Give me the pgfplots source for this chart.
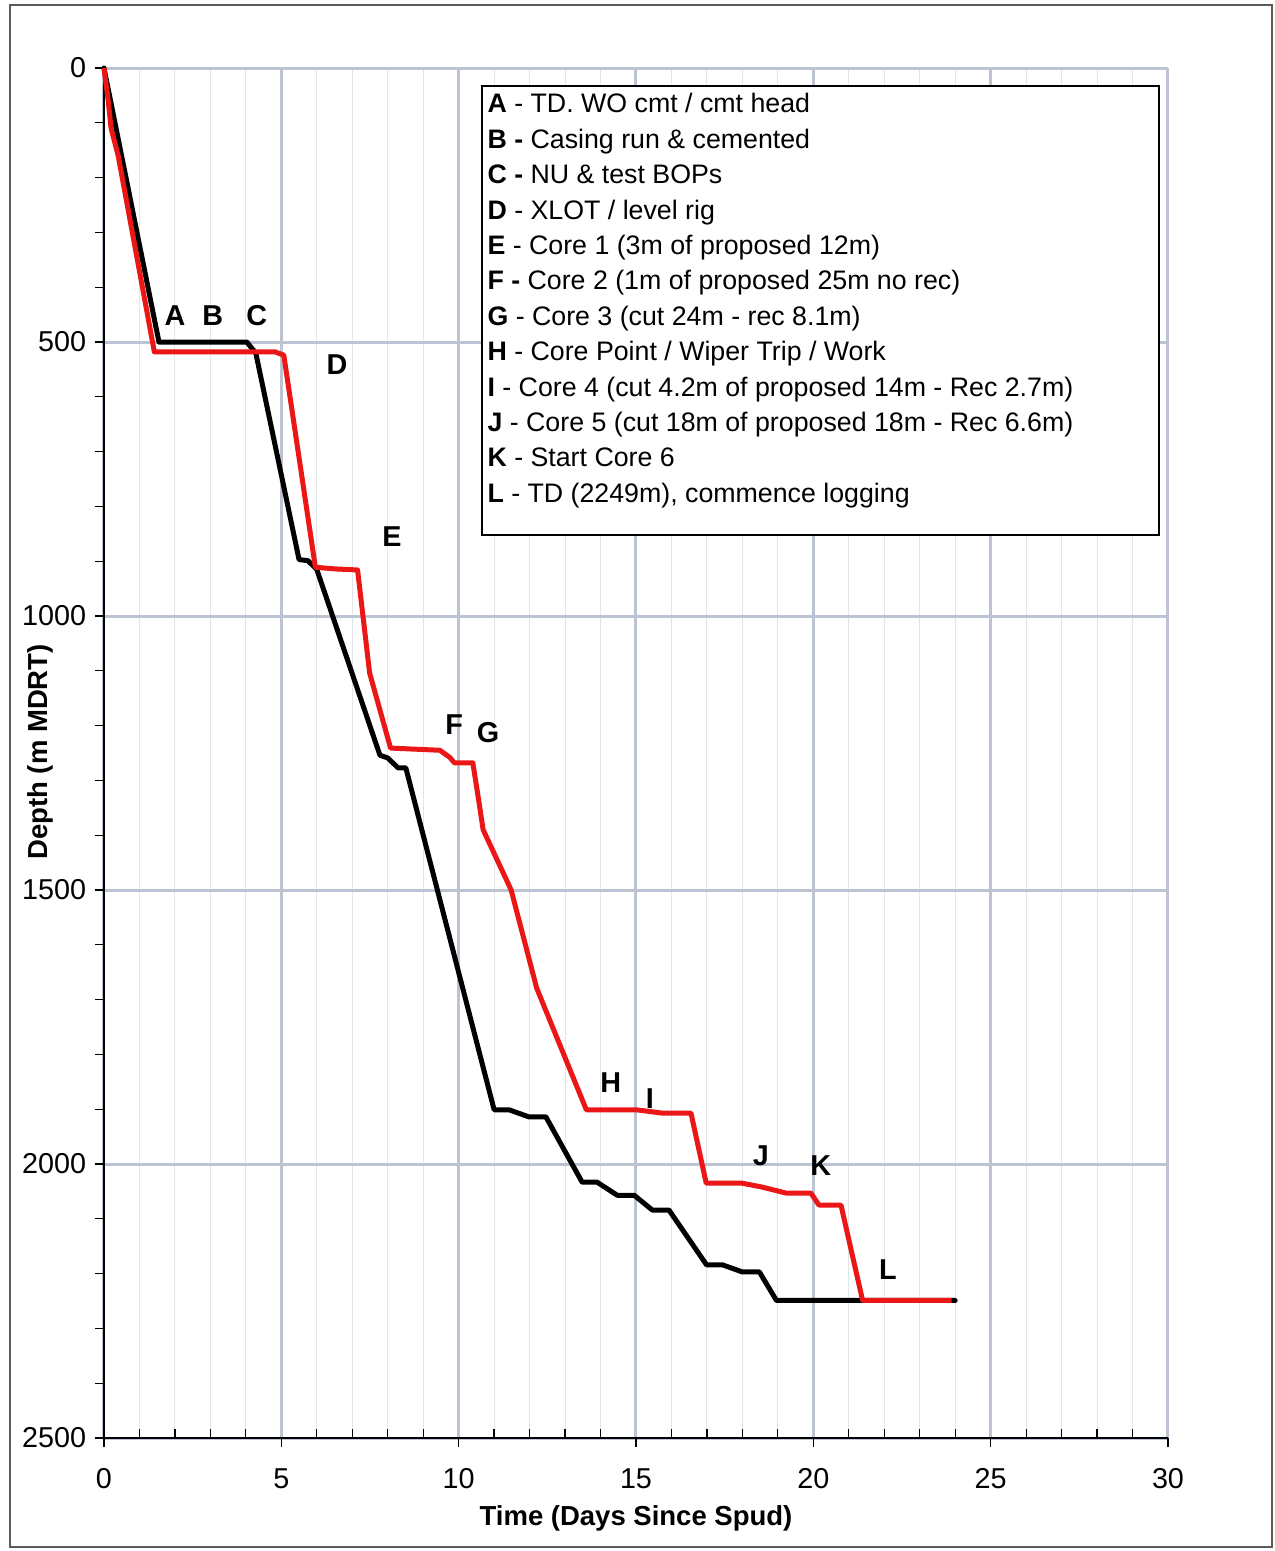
\documentclass[border=0pt]{standalone}
\usepackage{pgfplots}
\pgfplotsset{compat=1.18}
\usepackage{fontspec}
\setmainfont{Liberation Sans}
\definecolor{majgrid}{RGB}{188,196,212}
\definecolor{mingrid}{RGB}{226,229,235}
\definecolor{myred}{RGB}{235,22,22}
\definecolor{framec}{RGB}{90,90,90}
\begin{document}
\begin{tikzpicture}
\begin{axis}[
  scale only axis, width=425.6pt, height=548pt,
  xmin=0, xmax=30, ymin=0, ymax=2500, y dir=reverse,
  axis x line*=bottom, axis y line*=left,
  xtick={0,5,...,30}, ytick={0,500,...,2500},
  minor x tick num=4, minor y tick num=4,
  xmajorgrids, xminorgrids, ymajorgrids,
  major grid style={majgrid, line width=1.2pt},
  minor grid style={mingrid, line width=0.4pt},
  tick align=outside, major tick length=3.6pt, minor tick length=3.6pt,
  minor x tick style={yshift=3.6pt},
  tick style={black, line width=0.5pt},
  axis line style={black, line width=0.6pt},
  /pgf/number format/assume math mode=true,
  /pgf/number format/1000 sep={},
  ticklabel style={font=\fontsize{11.5}{13}\selectfont},
  xticklabel style={yshift=-5pt},
  clip=false,
]
% invisible bounding box and outer frame
\path (axis cs:-2.932,-124.1) rectangle (axis cs:32.99,2706.2);
\draw[framec, line width=0.8pt] (axis cs:-2.65,-115) rectangle (axis cs:32.93,2698.9);

\addplot[black, line width=2pt, line join=round, line cap=round] coordinates {
(0,0)(1.55,500)(4.03,500)(4.15,510)(4.28,520)(5.5,897)(5.75,899)(6.0,915)
(7.78,1254)(8.0,1259)(8.29,1277)(8.51,1277)(11.0,1901)(11.42,1901)(11.98,1914)(12.46,1914)
(13.48,2033)(13.9,2033)(14.47,2057)(14.95,2057)(15.46,2084)(15.93,2084)(16.99,2184)
(17.44,2184)(18.0,2197)(18.48,2197)(18.96,2249)(24.0,2249)
};
\addplot[myred, line width=2pt, line join=round] coordinates {
(0,0)(0.12,60)(0.2,110)(0.4,160)(1.42,518)(4.82,518)(5.07,524)(5.96,911)(6.5,914)
(7.15,916)(7.49,1104)(8.08,1241)(9.47,1245)(9.75,1258)(9.88,1268)(10.4,1268)(10.55,1330)
(10.69,1390)(11.48,1500)(12.2,1679)(13.6,1901)(15.0,1901)(15.73,1907)(16.55,1907)
(16.98,2035)(17.99,2035)(18.55,2042)(19.23,2053)(19.93,2053)(20.16,2075)(20.78,2075)
(21.39,2249)(23.9,2249)
};

% event letters
\begin{scope}[every node/.style={font=\fontsize{11.5}{13}\selectfont\bfseries}]
\node at (axis cs:2.0,452) {A};
\node at (axis cs:3.07,452) {B};
\node at (axis cs:4.31,452) {C};
\node at (axis cs:6.57,542) {D};
\node at (axis cs:8.12,856) {E};
\node at (axis cs:9.87,1199) {F};
\node at (axis cs:10.83,1212) {G};
\node at (axis cs:14.29,1852) {H};
\node at (axis cs:15.39,1880) {I};
\node at (axis cs:18.52,1985) {J};
\node at (axis cs:20.21,2002) {K};
\node at (axis cs:22.1,2193) {L};
\end{scope}

% legend box
\draw[black, line width=1pt, fill=white] (axis cs:10.66,33) rectangle (axis cs:29.74,852);
\begin{scope}[every node/.style={anchor=base west, inner sep=0pt, font=\fontsize{10.7}{12}\selectfont}]
\node at (axis cs:10.8,82) {\textbf{A} - TD. WO cmt / cmt head};
\node at (axis cs:10.8,146.6) {\textbf{B -} Casing run \& cemented};
\node at (axis cs:10.8,211.2) {\textbf{C -} NU \& test BOPs};
\node at (axis cs:10.8,275.8) {\textbf{D} - XLOT / level rig};
\node at (axis cs:10.8,340.4) {\textbf{E} - Core 1 (3m of proposed 12m)};
\node at (axis cs:10.8,405) {\textbf{F -} Core 2 (1m of proposed 25m no rec)};
\node at (axis cs:10.8,469.6) {\textbf{G} - Core 3 (cut 24m - rec 8.1m)};
\node at (axis cs:10.8,534.2) {\textbf{H} - Core Point / Wiper Trip / Work};
\node at (axis cs:10.8,598.8) {\textbf{I} - Core 4 (cut 4.2m of proposed 14m - Rec 2.7m)};
\node at (axis cs:10.8,663.4) {\textbf{J} - Core 5 (cut 18m of proposed 18m - Rec 6.6m)};
\node at (axis cs:10.8,728) {\textbf{K} - Start Core 6};
\node at (axis cs:10.8,792.6) {\textbf{L} - TD (2249m), commence logging};
\end{scope}

% axis labels
\node[font=\fontsize{11}{13}\selectfont\bfseries] at (axis cs:15,2646) {Time (Days Since Spud)};
\node[font=\fontsize{11}{13}\selectfont\bfseries, rotate=90] at (axis cs:-1.80,1248) {Depth (m MDRT)};
\end{axis}
\end{tikzpicture}
\end{document}
